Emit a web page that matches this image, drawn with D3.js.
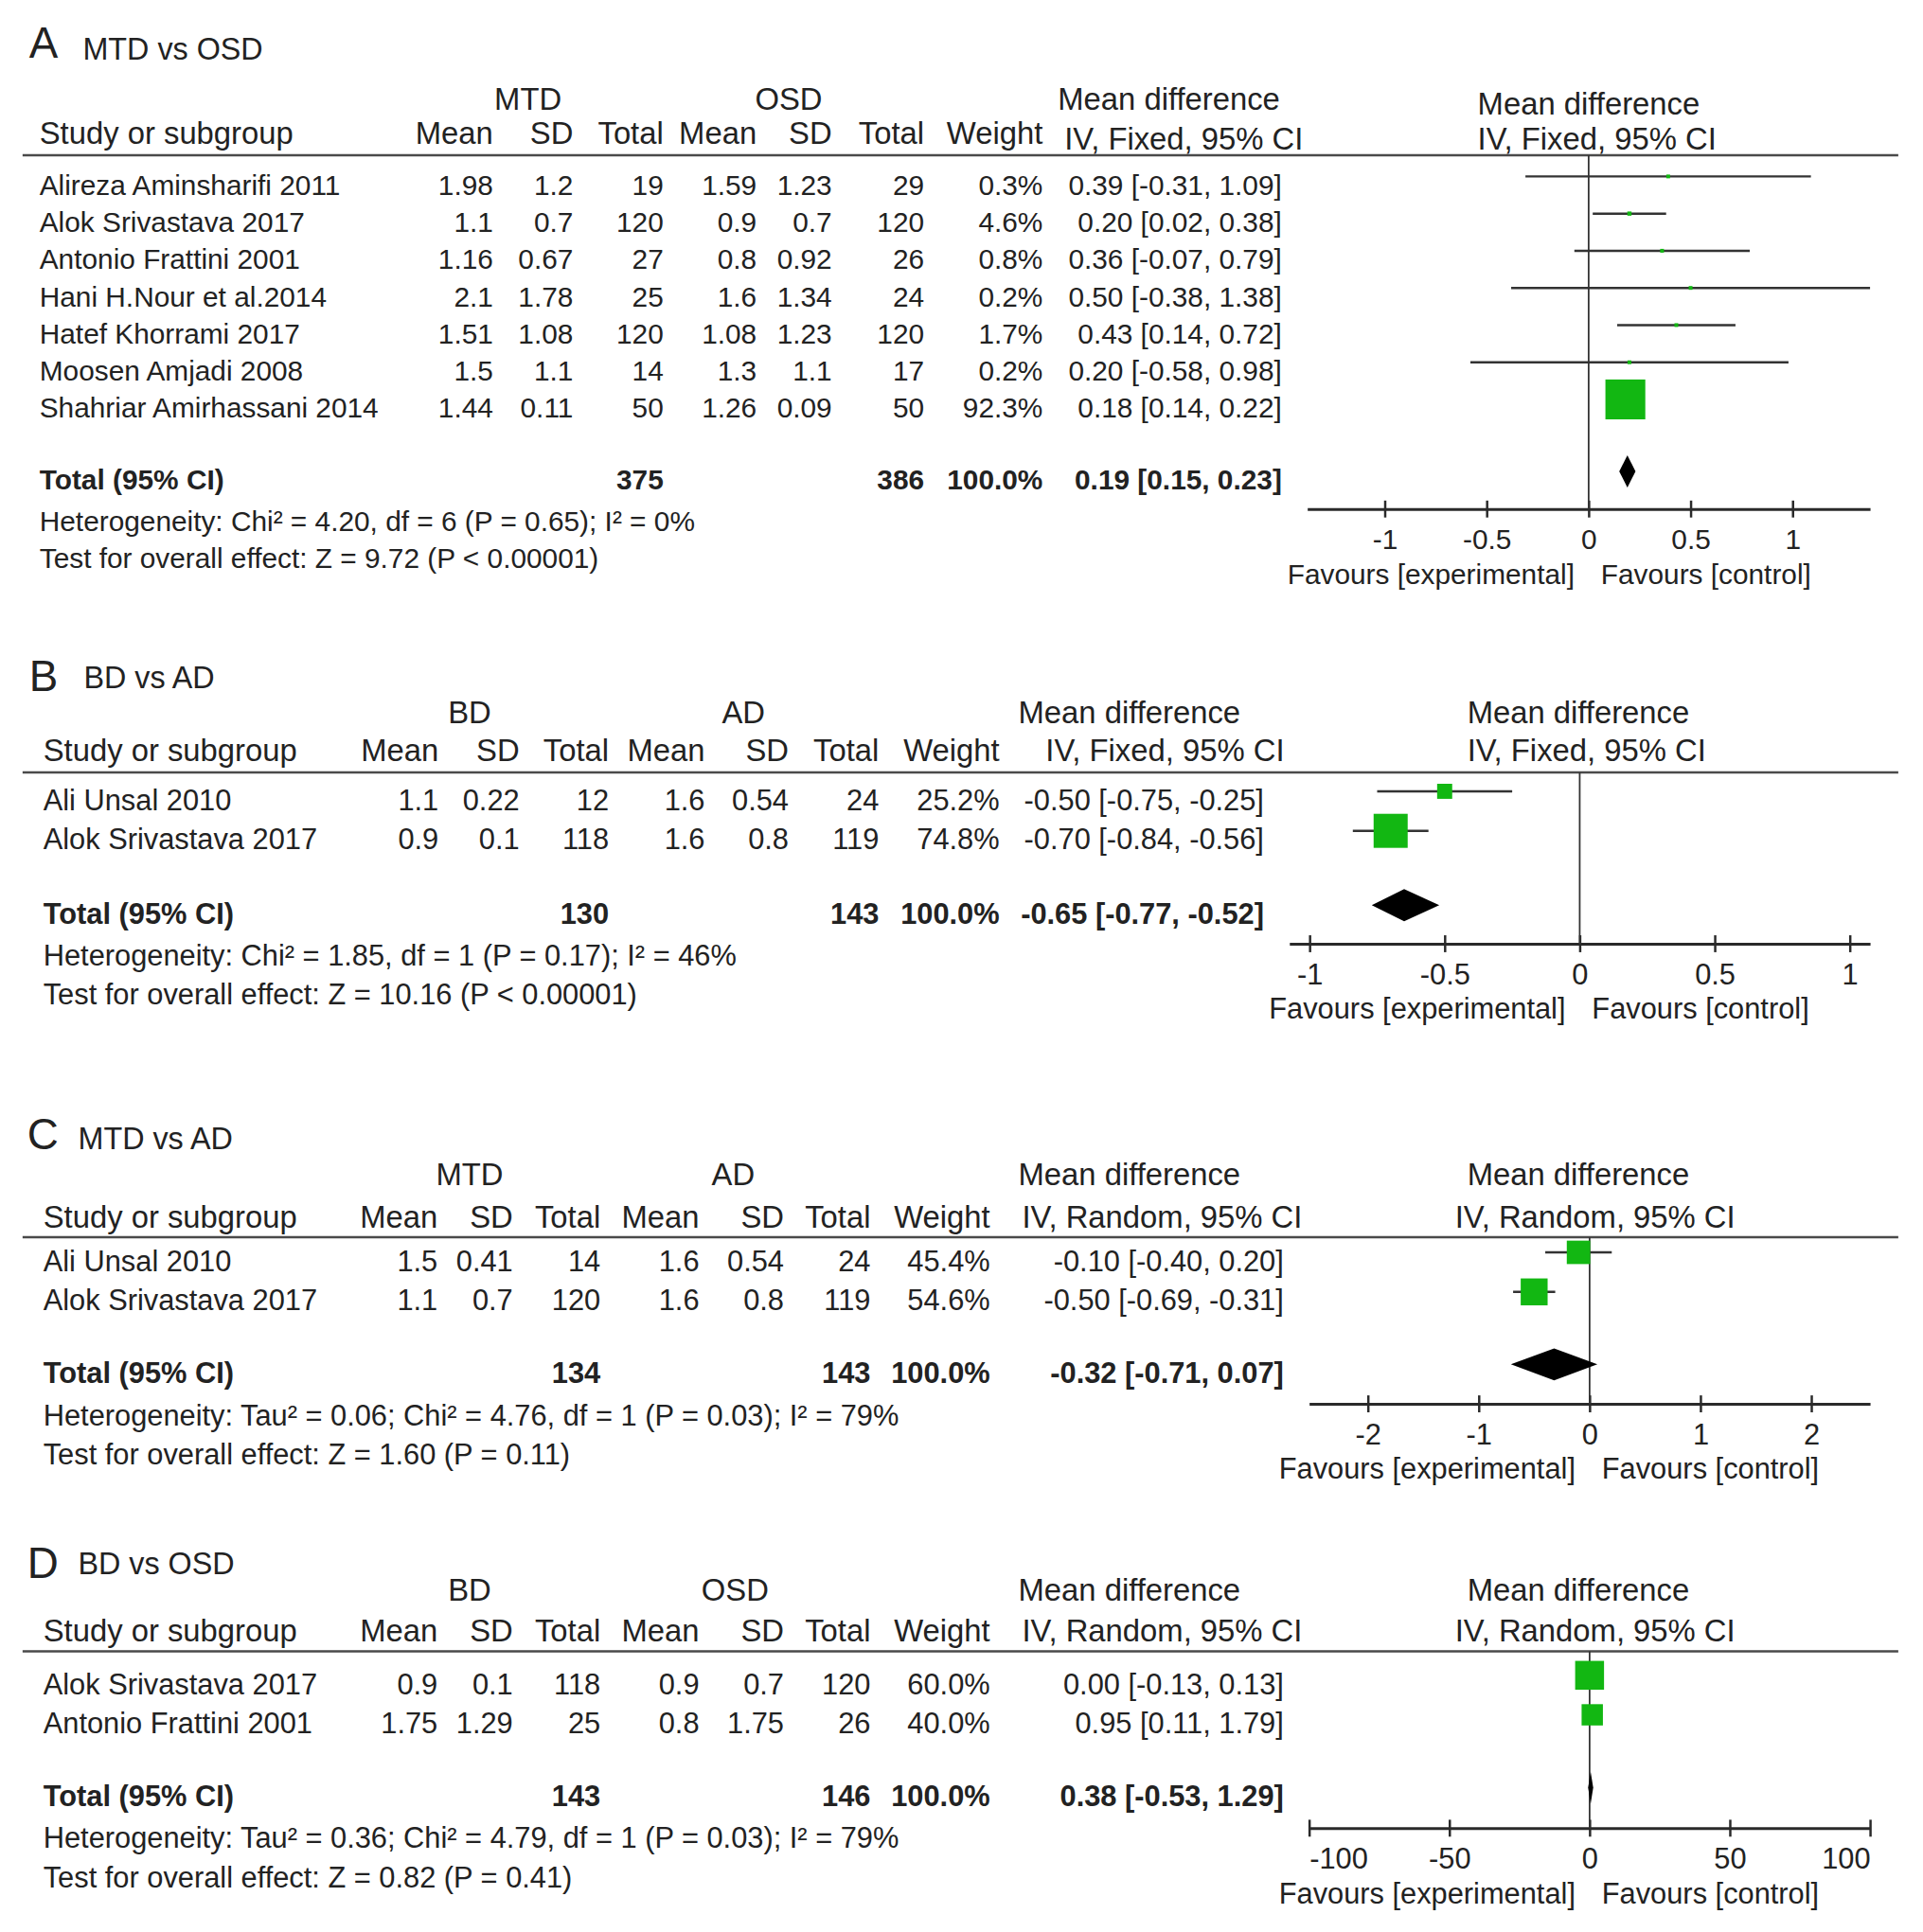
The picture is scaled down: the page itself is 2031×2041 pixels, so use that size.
<!DOCTYPE html>
<html>
<head>
<meta charset="utf-8">
<script src="https://cdn.jsdelivr.net/npm/d3@7"></script>
<style>
  body { margin: 0; background: #fff; }
  text { font-family: "Liberation Sans", Arial, sans-serif; fill: #222; }
</style>
</head>
<body>
<div id="chart"></div>
<script>
// ---- A: MTD vs OSD ----
const studiesA = ["Alireza Aminsharifi 2011", "Alok Srivastava 2017", "Antonio Frattini 2001",
  "Hani H.Nour et al.2014", "Hatef Khorrami 2017", "Moosen Amjadi 2008", "Shahriar Amirhassani 2014"];
const expMeanA = [1.98, 1.1, 1.16, 2.1, 1.51, 1.5, 1.44];
const expSdA = [1.2, 0.7, 0.67, 1.78, 1.08, 1.1, 0.11];
const expTotalA = [19, 120, 27, 25, 120, 14, 50];
const ctlMeanA = [1.59, 0.9, 0.8, 1.6, 1.08, 1.3, 1.26];
const ctlSdA = [1.23, 0.7, 0.92, 1.34, 1.23, 1.1, 0.09];
const ctlTotalA = [29, 120, 26, 24, 120, 17, 50];
const weightA = [0.3, 4.6, 0.8, 0.2, 1.7, 0.2, 92.3];
const mdA = [0.39, 0.20, 0.36, 0.50, 0.43, 0.20, 0.18];
const loA = [-0.31, 0.02, -0.07, -0.38, 0.14, -0.58, 0.14];
const hiA = [1.09, 0.38, 0.79, 1.38, 0.72, 0.98, 0.22];
const sumNA = [375, 386];
const sumMdA = [0.19, 0.15, 0.23];
const ticksA = [-1, -0.5, 0, 0.5, 1];
const domainA = [-1.38, 1.38];

// ---- B: BD vs AD ----
const studiesB = ["Ali Unsal 2010", "Alok Srivastava 2017"];
const expMeanB = [1.1, 0.9];
const expSdB = [0.22, 0.1];
const expTotalB = [12, 118];
const ctlMeanB = [1.6, 1.6];
const ctlSdB = [0.54, 0.8];
const ctlTotalB = [24, 119];
const weightB = [25.2, 74.8];
const mdB = [-0.50, -0.70];
const loB = [-0.75, -0.84];
const hiB = [-0.25, -0.56];
const sumNB = [130, 143];
const sumMdB = [-0.65, -0.77, -0.52];
const ticksB = [-1, -0.5, 0, 0.5, 1];
const domainB = [-1.075, 1.075];

// ---- C: MTD vs AD ----
const studiesC = ["Ali Unsal 2010", "Alok Srivastava 2017"];
const expMeanC = [1.5, 1.1];
const expSdC = [0.41, 0.7];
const expTotalC = [14, 120];
const ctlMeanC = [1.6, 1.6];
const ctlSdC = [0.54, 0.8];
const ctlTotalC = [24, 119];
const weightC = [45.4, 54.6];
const mdC = [-0.10, -0.50];
const loC = [-0.40, -0.69];
const hiC = [0.20, -0.31];
const sumNC = [134, 143];
const sumMdC = [-0.32, -0.71, 0.07];
const ticksC = [-2, -1, 0, 1, 2];
const domainC = [-2.53, 2.53];

// ---- D: BD vs OSD ----
const studiesD = ["Alok Srivastava 2017", "Antonio Frattini 2001"];
const expMeanD = [0.9, 1.75];
const expSdD = [0.1, 1.29];
const expTotalD = [118, 25];
const ctlMeanD = [0.9, 0.8];
const ctlSdD = [0.7, 1.75];
const ctlTotalD = [120, 26];
const weightD = [60.0, 40.0];
const mdD = [0.00, 0.95];
const loD = [-0.13, 0.11];
const hiD = [0.13, 1.79];
const sumND = [143, 146];
const sumMdD = [0.38, -0.53, 1.29];
const ticksD = [-100, -50, 0, 50, 100];
const domainD = [-100, 100];

const colHeads = ["Mean", "SD", "Total", "Mean", "SD", "Total", "Weight"];

class ForestPlot {
  constructor(opts) {
    Object.assign(this, opts);
    this.draw();
  }

  draw() {
    this.chart = this.svg.append("g").classed("panel", true);
    this.fs = this.bodyFont + "px";
    this.createScales();
    this.addHeader();
    this.addRows();
    this.addAxis();
    this.addMarkers();
  }

  createScales() {
    const L = this.layout;
    this.xscale = d3.scaleLinear().domain(this.domain).range(L.plotX);
    this.boxSize = d3.scalePow().exponent(0.75).domain([0, 100]).range([0, 45]);
    this.rowY = i => L.row0 + i * L.rowStep;
  }

  addHeader() {
    const L = this.layout, c = this.chart;
    c.append("text").text(this.letter)
      .attr("x", L.letterX).attr("y", L.letterY).style("font-size", "46px");
    c.append("text").text(this.title)
      .attr("x", L.titleX).attr("y", L.titleY).style("font-size", "32.5px");

    const head = (t, x, y, anchor) => c.append("text").text(t)
      .attr("x", x).attr("y", y).attr("dy", "0.35em")
      .style("font-size", "33px").style("text-anchor", anchor || "start");

    head(this.group1, L.group1X, L.groupY, "middle");
    head(this.group2, L.group2X, L.groupY, "middle");
    head("Study or subgroup", L.studyX, L.headY);
    colHeads.forEach((t, i) => head(t, L.cols[i], L.headY, "end"));
    head("Mean difference", L.mdX1, L.groupY);
    head(this.method, L.mdX2, L.mdY2);
    head("Mean difference", L.rightX1, L.rightY1);
    head(this.method, L.rightX2, L.mdY2);

    c.append("line")
      .attr("x1", 24).attr("x2", 2017)
      .attr("y1", L.ruleY).attr("y2", L.ruleY)
      .attr("stroke", "#4a4a4a").attr("stroke-width", 2.5);
  }

  addRows() {
    const L = this.layout, c = this.chart;
    const f2 = v => v.toFixed(2);
    const rows = this.studies.map((s, i) => [
      String(this.m1[i]), String(this.sd1[i]), String(this.n1[i]),
      String(this.m2[i]), String(this.sd2[i]), String(this.n2[i]),
      this.weight[i].toFixed(1) + "%",
      f2(this.md[i]) + " [" + f2(this.lo[i]) + ", " + f2(this.hi[i]) + "]"
    ]);

    const body = c.append("g").style("font-size", this.fs);
    body.selectAll("text.study")
      .data(this.studies)
      .join("text").classed("study", true)
      .text(d => d)
      .attr("x", L.studyX)
      .attr("y", (d, i) => this.rowY(i))
      .attr("dy", "0.35em");

    rows.forEach((r, i) => {
      body.selectAll(null)
        .data(r)
        .join("text")
        .text(d => d)
        .attr("x", (d, j) => L.cols[j])
        .attr("y", this.rowY(i))
        .attr("dy", "0.35em")
        .style("text-anchor", "end");
    });

    const tot = c.append("g").style("font-size", this.fs).style("font-weight", "bold");
    const m = this.sumMd;
    const totCells = [
      [L.studyX, "Total (95% CI)", "start"],
      [L.cols[2], String(this.sumN[0]), "end"],
      [L.cols[5], String(this.sumN[1]), "end"],
      [L.cols[6], "100.0%", "end"],
      [L.cols[7], f2(m[0]) + " [" + f2(m[1]) + ", " + f2(m[2]) + "]", "end"]
    ];
    tot.selectAll("text")
      .data(totCells)
      .join("text")
      .text(d => d[1])
      .attr("x", d => d[0])
      .attr("y", L.totalY)
      .attr("dy", "0.35em")
      .style("text-anchor", d => d[2]);

    const notes = c.append("g").style("font-size", this.fs);
    notes.append("text").text(this.het)
      .attr("x", L.studyX).attr("y", L.hetY).attr("dy", "0.35em");
    notes.append("text").text(this.test)
      .attr("x", L.studyX).attr("y", L.testY).attr("dy", "0.35em");
  }

  addAxis() {
    const L = this.layout, c = this.chart;
    const [d0, d1] = this.domain;
    const xaxis = d3.axisBottom(this.xscale)
      .tickValues(this.ticks)
      .tickFormat(d => String(d))
      .tickSizeInner(9)
      .tickSizeOuter(0)
      .tickPadding(12);

    const ax = c.append("g").attr("class", "x-axis")
      .attr("transform", "translate(0," + L.axisY + ")")
      .call(xaxis);
    ax.select(".domain").attr("stroke", "#2a2a2a").attr("stroke-width", 3);
    ax.selectAll(".tick line").attr("y1", -9).attr("stroke", "#2a2a2a").attr("stroke-width", 2.5);
    // labels sitting on the very ends of the axis are pulled inward
    ax.selectAll(".tick text")
      .style("font-size", this.fs)
      .style("font-family", "'Liberation Sans', Arial, sans-serif")
      .attr("fill", "#222")
      .attr("text-anchor", d => d === d0 ? "start" : d === d1 ? "end" : "middle");

    const x0 = this.xscale(0);
    c.append("line")
      .attr("x1", x0).attr("x2", x0)
      .attr("y1", L.ruleY).attr("y2", L.axisY)
      .attr("stroke", "#333").attr("stroke-width", 1.8);

    const fav = c.append("g").style("font-size", this.fs);
    fav.append("text").text("Favours [experimental]")
      .attr("x", x0 - 15).attr("y", L.axisY + 69).attr("dy", "0.35em")
      .style("text-anchor", "end");
    fav.append("text").text("Favours [control]")
      .attr("x", x0 + 13).attr("y", L.axisY + 69).attr("dy", "0.35em");
  }

  addMarkers() {
    const L = this.layout, c = this.chart, x = this.xscale;
    const off = -9;
    const idx = this.studies.map((d, i) => i);

    c.append("g").selectAll("line")
      .data(idx)
      .join("line")
      .attr("x1", i => x(this.lo[i]))
      .attr("x2", i => x(this.hi[i]))
      .attr("y1", i => this.rowY(i) + off)
      .attr("y2", i => this.rowY(i) + off)
      .attr("stroke", "#333")
      .attr("stroke-width", 2.5);

    const side = i => Math.max(4, this.boxSize(this.weight[i]));
    c.append("g").selectAll("rect")
      .data(idx)
      .join("rect")
      .attr("x", i => x(this.md[i]) - side(i) / 2)
      .attr("y", i => this.rowY(i) + off - side(i) / 2)
      .attr("width", side)
      .attr("height", side)
      .attr("fill", "#12b712");

    const m = this.sumMd, yc = L.totalY + off, h = 17;
    c.append("path")
      .attr("d", d3.line()([[x(m[1]), yc], [x(m[0]), yc - h], [x(m[2]), yc], [x(m[0]), yc + h]]) + "Z")
      .attr("fill", "#000");
  }
}

const svg = d3.select("#chart").append("svg")
  .attr("width", 2031)
  .attr("height", 2041);

const root = svg.append("g").attr("transform", "scale(0.994)");

new ForestPlot({
  svg: root, letter: "A", title: "MTD vs OSD", group1: "MTD", group2: "OSD", method: "IV, Fixed, 95% CI",
  studies: studiesA, m1: expMeanA, sd1: expSdA, n1: expTotalA, m2: ctlMeanA, sd2: ctlSdA, n2: ctlTotalA,
  weight: weightA, md: mdA, lo: loA, hi: hiA, sumN: sumNA, sumMd: sumMdA, ticks: ticksA, domain: domainA,
  het: "Heterogeneity: Chi² = 4.20, df = 6 (P = 0.65); I² = 0%",
  test: "Test for overall effect: Z = 9.72 (P < 0.00001)",
  bodyFont: 30,
  layout: {
    letterX: 31, letterY: 61, titleX: 88, titleY: 63,
    groupY: 105, headY: 141, mdY2: 147, rightY1: 110,
    group1X: 561, group2X: 838, studyX: 42,
    cols: [524, 609, 705, 804, 884, 982, 1108, 1362],
    mdX1: 1124, mdX2: 1131, rightX1: 1570, rightX2: 1570,
    ruleY: 165, row0: 196.5, rowStep: 39.5, totalY: 510, hetY: 554, testY: 593,
    axisY: 541, plotX: [1389, 1987]
  }
});

new ForestPlot({
  svg: root, letter: "B", title: "BD vs AD", group1: "BD", group2: "AD", method: "IV, Fixed, 95% CI",
  studies: studiesB, m1: expMeanB, sd1: expSdB, n1: expTotalB, m2: ctlMeanB, sd2: ctlSdB, n2: ctlTotalB,
  weight: weightB, md: mdB, lo: loB, hi: hiB, sumN: sumNB, sumMd: sumMdB, ticks: ticksB, domain: domainB,
  het: "Heterogeneity: Chi² = 1.85, df = 1 (P = 0.17); I² = 46%",
  test: "Test for overall effect: Z = 10.16 (P < 0.00001)",
  bodyFont: 31,
  layout: {
    letterX: 31, letterY: 734, titleX: 89, titleY: 731,
    groupY: 757, headY: 797, mdY2: 797, rightY1: 757,
    group1X: 499, group2X: 790, studyX: 46,
    cols: [466, 552, 647, 749, 838, 934, 1062, 1343],
    mdX1: 1082, mdX2: 1111, rightX1: 1559, rightX2: 1559,
    ruleY: 821, row0: 850, rowStep: 42, totalY: 971, hetY: 1015, testY: 1057,
    axisY: 1003, plotX: [1370, 1987]
  }
});

new ForestPlot({
  svg: root, letter: "C", title: "MTD vs AD", group1: "MTD", group2: "AD", method: "IV, Random, 95% CI",
  studies: studiesC, m1: expMeanC, sd1: expSdC, n1: expTotalC, m2: ctlMeanC, sd2: ctlSdC, n2: ctlTotalC,
  weight: weightC, md: mdC, lo: loC, hi: hiC, sumN: sumNC, sumMd: sumMdC, ticks: ticksC, domain: domainC,
  het: "Heterogeneity: Tau² = 0.06; Chi² = 4.76, df = 1 (P = 0.03); I² = 79%",
  test: "Test for overall effect: Z = 1.60 (P = 0.11)",
  bodyFont: 31,
  layout: {
    letterX: 29, letterY: 1221, titleX: 83, titleY: 1221,
    groupY: 1248, headY: 1293, mdY2: 1293, rightY1: 1248,
    group1X: 499, group2X: 779, studyX: 46,
    cols: [465, 545, 638, 743, 833, 925, 1052, 1364],
    mdX1: 1082, mdX2: 1086, rightX1: 1559, rightX2: 1546,
    ruleY: 1315, row0: 1340, rowStep: 42, totalY: 1459, hetY: 1504, testY: 1546,
    axisY: 1492, plotX: [1391, 1987]
  }
});

new ForestPlot({
  svg: root, letter: "D", title: "BD vs OSD", group1: "BD", group2: "OSD", method: "IV, Random, 95% CI",
  studies: studiesD, m1: expMeanD, sd1: expSdD, n1: expTotalD, m2: ctlMeanD, sd2: ctlSdD, n2: ctlTotalD,
  weight: weightD, md: mdD, lo: loD, hi: hiD, sumN: sumND, sumMd: sumMdD, ticks: ticksD, domain: domainD,
  het: "Heterogeneity: Tau² = 0.36; Chi² = 4.79, df = 1 (P = 0.03); I² = 79%",
  test: "Test for overall effect: Z = 0.82 (P = 0.41)",
  bodyFont: 31,
  layout: {
    letterX: 29, letterY: 1677, titleX: 83, titleY: 1673,
    groupY: 1690, headY: 1733, mdY2: 1733, rightY1: 1690,
    group1X: 499, group2X: 781, studyX: 46,
    cols: [465, 545, 638, 743, 833, 925, 1052, 1364],
    mdX1: 1082, mdX2: 1086, rightX1: 1559, rightX2: 1546,
    ruleY: 1755, row0: 1789.5, rowStep: 42, totalY: 1909, hetY: 1953, testY: 1995,
    axisY: 1943, plotX: [1391, 1987]
  }
});
</script>
</body>
</html>
